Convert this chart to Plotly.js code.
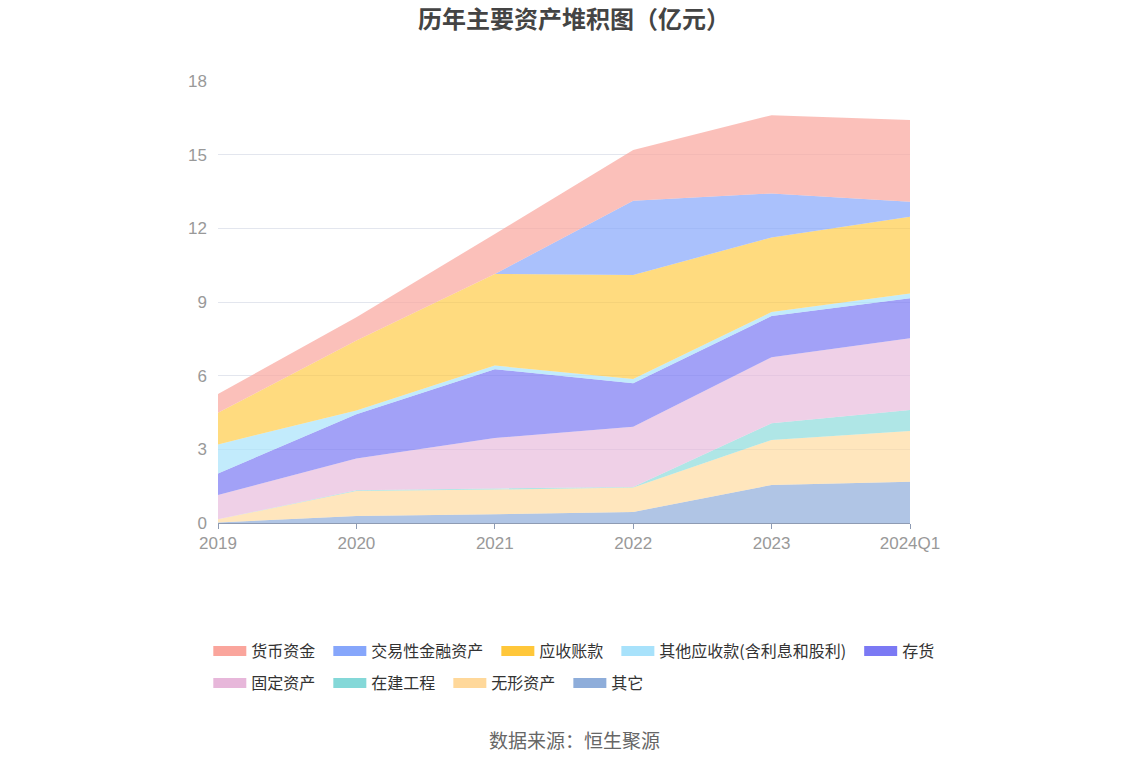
<!DOCTYPE html>
<html>
<head>
<meta charset="utf-8">
<script src="https://cdn.plot.ly/plotly-3.0.1.min.js"></script>
<style>html,body{margin:0;padding:0;background:#fff;}#chart{width:1148px;height:776px;}</style>
</head>
<body>
<div id="chart"></div>
<script>
const periods = ["2019", "2020", "2021", "2022", "2023", "2024Q1"];
const huobi    = [0.76, 0.95, 1.63, 2.07, 3.19, 3.33];   // 货币资金
const jiaoyi   = [0.00, 0.00, 0.00, 3.02, 1.79, 0.61];   // 交易性金融资产
const yingshou = [1.29, 2.85, 3.73, 4.24, 3.04, 3.12];   // 应收账款
const qitaYS   = [1.18, 0.15, 0.15, 0.17, 0.16, 0.20];   // 其他应收款
const cunhuo   = [0.88, 1.80, 2.80, 1.77, 1.68, 1.63];   // 存货
const guding   = [0.99, 1.30, 2.05, 2.45, 2.69, 2.92];   // 固定资产
const zaijian  = [0.00, 0.03, 0.05, 0.02, 0.68, 0.85];   // 在建工程
const wuxing   = [0.13, 1.02, 1.00, 1.00, 1.83, 2.07];   // 无形资产
const qita     = [0.02, 0.28, 0.36, 0.45, 1.55, 1.68];   // 其它
const yTicks = [0, 3, 6, 9, 12, 15, 18];

// bottom-to-top stacking order
const series = [
  {name: "其它", y: qita, c: "rgba(142,173,218,0.7)", sw: "#8eadda", lg: "legend2"},
  {name: "无形资产", y: wuxing, c: "rgba(255,216,154,0.65)", sw: "#ffd89a", lg: "legend2"},
  {name: "在建工程", y: zaijian, c: "rgba(132,216,216,0.65)", sw: "#84d8d8", lg: "legend2"},
  {name: "固定资产", y: guding, c: "rgba(231,183,218,0.65)", sw: "#e7b7da", lg: "legend2"},
  {name: "存货", y: cunhuo, c: "rgba(123,121,244,0.7)", sw: "#7b79f4", lg: "legend"},
  {name: "其他应收款(含利息和股利)", y: qitaYS, c: "rgba(168,226,251,0.7)", sw: "#a8e2fb", lg: "legend"},
  {name: "应收账款", y: yingshou, c: "rgba(255,199,58,0.65)", sw: "#ffc73a", lg: "legend"},
  {name: "交易性金融资产", y: jiaoyi, c: "rgba(134,166,251,0.7)", sw: "#86a6fb", lg: "legend"},
  {name: "货币资金", y: huobi, c: "rgba(250,165,156,0.7)", sw: "#faa59c", lg: "legend"}
];

const areaTraces = series.map(s => ({
  type: "scatter",
  mode: "lines",
  x: periods,
  y: s.y,
  name: s.name,
  stackgroup: "one",
  fillcolor: s.c,
  line: {width: 0, color: s.c},
  showlegend: false,
  hoverinfo: "x+y+name"
}));

// legend-only entries (no data drawn), listed top-to-bottom
const legendTraces = series.slice().reverse().map(s => ({
  type: "scatter",
  mode: "lines",
  x: [null],
  y: [null],
  name: s.name + "\u2002",
  legend: s.lg,
  line: {width: 20, color: s.sw},
  showlegend: true,
  hoverinfo: "skip"
}));

const legendBase = {
  orientation: "h",
  traceorder: "normal",
  xanchor: "left",
  yanchor: "middle",
  font: {size: 16, color: "#333"},
  itemwidth: 33,
  tracegroupgap: 0,
  bgcolor: "rgba(0,0,0,0)"
};

const layout = {
  width: 1148,
  height: 776,
  margin: {l: 218, r: 238, t: 81, b: 253},
  paper_bgcolor: "#fff",
  plot_bgcolor: "#fff",
  font: {family: "'Noto Sans CJK SC', 'Noto Sans', sans-serif", color: "#333"},
  title: {
    text: "<b>历年主要资产堆积图（亿元）</b>",
    x: 0.5, xanchor: "center",
    y: 0.975, yanchor: "middle",
    font: {size: 24, color: "#444", family: "'Noto Sans CJK SC', sans-serif"}
  },
  xaxis: {
    type: "category",
    range: [0, 5],
    showgrid: false,
    showline: true,
    linecolor: "#8e9bb3",
    linewidth: 1,
    ticks: "outside",
    ticklen: 5,
    tickcolor: "#8e9bb3",
    tickfont: {size: 17, color: "#999", family: "'Liberation Sans', Arial, sans-serif"},
    zeroline: false,
    fixedrange: true
  },
  yaxis: {
    range: [0, 18],
    tickvals: yTicks,
    ticktext: yTicks.map(String),
    showgrid: true,
    gridcolor: "#e3e6ee",
    gridwidth: 1,
    zeroline: false,
    showline: false,
    ticks: "",
    ticklabelstandoff: 10,
    tickfont: {size: 17, color: "#999", family: "'Liberation Sans', Arial, sans-serif"},
    fixedrange: true
  },
  showlegend: true,
  legend: Object.assign({}, legendBase, {x: -0.014, y: -0.29}),
  legend2: Object.assign({}, legendBase, {x: -0.014, y: -0.362}),
  annotations: [{
    text: "数据来源：恒生聚源",
    xref: "paper", yref: "paper",
    x: 0.5145, y: -0.49,
    xanchor: "center", yanchor: "middle",
    showarrow: false,
    font: {size: 19, color: "#666"}
  }]
};

Plotly.newPlot("chart", areaTraces.concat(legendTraces), layout, {displayModeBar: false, responsive: false});
</script>
</body>
</html>
